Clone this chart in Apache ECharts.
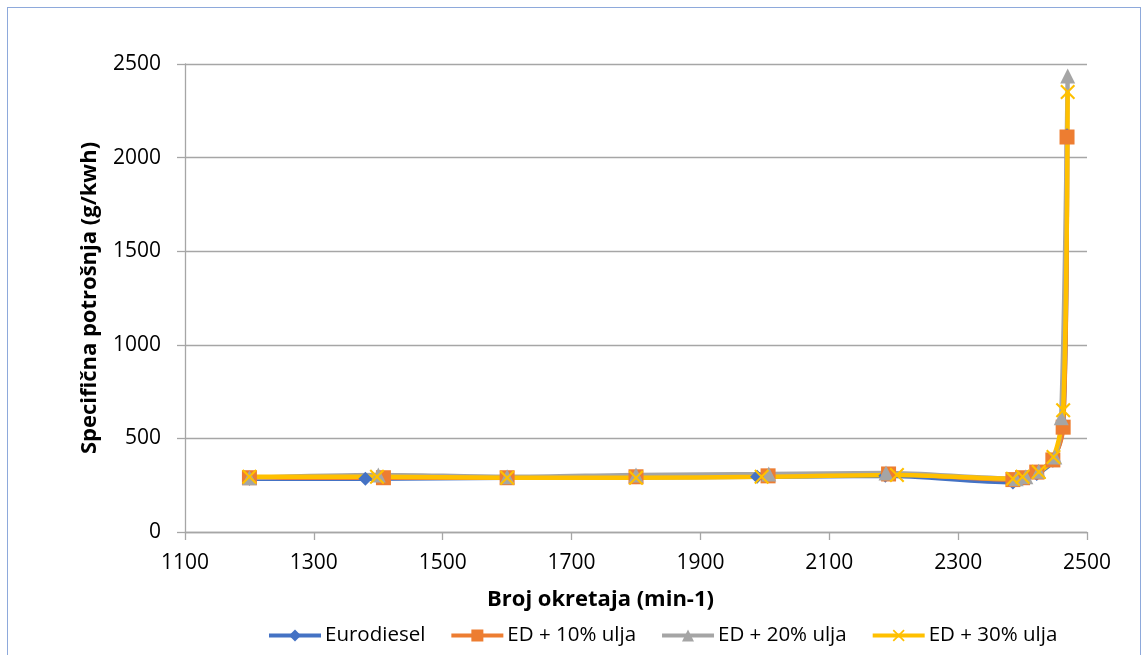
<!DOCTYPE html>
<html>
<head>
<meta charset="utf-8">
<script src="https://cdn.jsdelivr.net/npm/echarts@6/dist/echarts.min.js"></script>
<style>
  html, body { margin: 0; padding: 0; background: #fff; }
  #frame { position: absolute; left: 7px; top: 7px; width: 1132px; height: 660px; border: 1px solid #8EA9DB; }
  #chart { position: absolute; left: 0; top: 0; width: 1143px; height: 655px; }
</style>
</head>
<body>
<div id="frame"></div>
<div id="chart"></div>
<script>
  // broj okretaja (min-1) i specificna potrosnja (g/kwh), ocitano sa slike
  const euroX = [1200, 1380, 1600, 1800, 1988, 2187, 2385, 2400, 2422, 2447, 2463, 2469]
  const euroY = [285, 285, 290, 292, 295, 300, 265, 285, 310, 380, 580, 2120]
  const ed10X = [1200, 1408, 1600, 1800, 2005, 2192, 2385, 2400, 2422, 2447, 2463, 2469]
  const ed10Y = [290, 290, 290, 295, 300, 310, 280, 290, 320, 385, 560, 2110]
  const ed20X = [1200, 1400, 1600, 1800, 2006, 2188, 2390, 2405, 2425, 2450, 2460, 2470]
  const ed20Y = [290, 305, 295, 305, 310, 315, 285, 295, 325, 400, 610, 2436]
  const ed30X = [1200, 1398, 1600, 1800, 1995, 2205, 2385, 2400, 2425, 2448, 2463, 2470]
  const ed30Y = [295, 295, 290, 290, 295, 305, 285, 295, 320, 400, 650, 2350]
  const seriesNames = ['Eurodiesel', 'ED + 10% ulja', 'ED + 20% ulja', 'ED + 30% ulja']

  const font = 'Open Sans'
  const crossPath = 'path://M0,1 L1,0 L10,9 L9,10 Z M9,0 L10,1 L1,10 L0,9 Z'

  function pairs(xs, ys) {
    return xs.map((x, i) => [x, ys[i]])
  }

  function makeSeries(name, xs, ys, color, symbol, size) {
    return {
      name: name,
      type: 'line',
      smooth: 0.3,
      data: pairs(xs, ys),
      symbol: symbol,
      symbolSize: size,
      lineStyle: { color: color, width: 4.5 },
      itemStyle: { color: color, borderColor: color, borderWidth: 0 },
      emphasis: { disabled: true }
    }
  }

  const chart = echarts.init(document.getElementById('chart'))
  chart.setOption({
    animation: false,
    grid: { left: 185, right: 56, top: 64, bottom: 123 },
    legend: {
      bottom: 4,
      left: 262,
      itemWidth: 52,
      itemHeight: 15,
      itemGap: 24,
      lineStyle: { width: 4 },
      textStyle: { fontFamily: font, fontSize: 20.5, color: '#000', padding: [0, 0, 0, -1] },
      data: seriesNames
    },
    xAxis: {
      type: 'value',
      min: 1100,
      max: 2500,
      interval: 200,
      axisLine: { show: true, lineStyle: { color: '#A6A6A6', width: 1.3 } },
      axisTick: { show: true, length: 8, lineStyle: { color: '#A6A6A6', width: 1.3 } },
      axisLabel: { fontFamily: font, fontSize: 21, color: '#000', margin: 21, formatter: v => String(v) },
      splitLine: { show: false }
    },
    yAxis: {
      type: 'value',
      min: 0,
      max: 2500,
      interval: 500,
      name: 'Specifična potrošnja (g/kwh)',
      nameLocation: 'middle',
      nameGap: 84,
      nameTextStyle: { fontFamily: font, fontSize: 22, fontWeight: 'bold', color: '#000' },
      axisLine: { show: true, lineStyle: { color: '#A6A6A6', width: 1.3 } },
      axisTick: { show: true, length: 8, lineStyle: { color: '#A6A6A6', width: 1.3 } },
      axisLabel: { fontFamily: font, fontSize: 21, color: '#000', margin: 24, formatter: v => String(v) },
      splitLine: { show: true, lineStyle: { color: '#A6A6A6', width: 1.3 } }
    },
    graphic: [{
      type: 'text',
      left: 487,
      top: 589,
      style: { text: 'Broj okretaja (min-1)', fontFamily: font, fontSize: 22, fontWeight: 'bold', fill: '#000' }
    }],
    series: [
      makeSeries(seriesNames[0], euroX, euroY, '#4472C4', 'diamond', 14),
      makeSeries(seriesNames[1], ed10X, ed10Y, '#ED7D31', 'rect', 15),
      makeSeries(seriesNames[2], ed20X, ed20Y, '#A5A5A5', 'triangle', 15),
      makeSeries(seriesNames[3], ed30X, ed30Y, '#FFC000', crossPath, 15)
    ]
  })
</script>
</body>
</html>
